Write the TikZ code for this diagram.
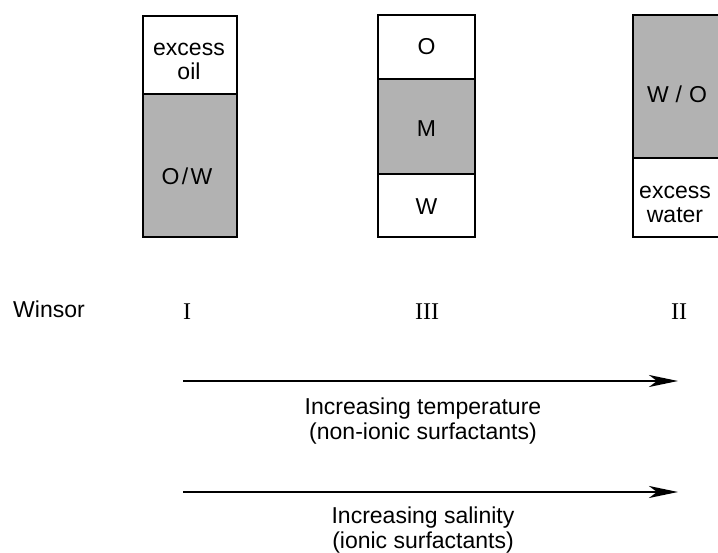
\documentclass[tikz,border=0pt]{standalone}
\usepackage{fontspec}
\setmainfont{Liberation Sans}
\newfontfamily\romanfont{Liberation Serif}
\usetikzlibrary{arrows.meta}
\definecolor{phase}{RGB}{178,178,178}
\begin{document}
\begin{tikzpicture}[x=1pt,y=-1pt,
  box/.style={draw=black,line width=2.3pt},
  lbl/.style={font=\fontsize{23}{24.5}\selectfont,anchor=base,align=center,inner sep=0pt},
  num/.style={font=\romanfont\fontsize{24}{25}\selectfont,anchor=base,inner sep=0pt},
  arr/.style={line width=2.5pt,-{Stealth[length=29pt,width=12pt,inset=8pt]}}]
\useasboundingbox (0,0) rectangle (718,553);
\clip (0,0) rectangle (718,553);
% tube I
\fill[phase] (143,94) rectangle (237,237);
\draw[box] (143,16) rectangle (237,237);
\draw[box] (143,94) -- (237,94);
\node[lbl] (t1a) at (189,80) {excess\\oil};
\node[lbl] (t1b) at (187,185) {O\hspace{0.1em}/\hspace{0.1em}W};
% tube III
\fill[phase] (378,79) rectangle (475,174);
\draw[box] (378,15) rectangle (475,237);
\draw[box] (378,79) -- (475,79);
\draw[box] (378,174) -- (475,174);
\node[lbl] (t2a) at (426.5,55) {O};
\node[lbl] (t2b) at (426.5,137) {M};
\node[lbl] (t2c) at (426.5,215) {W};
% tube II
\fill[phase] (633,15) rectangle (728,158);
\draw[box] (633,15) rectangle (728,237);
\draw[box] (633,158) -- (728,158);
\node[lbl] (t3a) at (677,103) {W\hspace{0.3em}/\hspace{0.3em}O};
\node[lbl] (t3b) at (675,223) {excess\\water};
% Winsor labels
\node[lbl,anchor=base west] (win) at (13,318) {Winsor};
\node[num] (w1) at (187,320) {I};
\node[num] (w3) at (427,320) {III};
\node[num] (w2) at (679,320) {II};
% arrows
\coordinate (a1s) at (183,381);
\coordinate (a1e) at (678,381);
\coordinate (a2s) at (183,492);
\coordinate (a2e) at (678,492);
\draw[arr] (a1s) -- (a1e);
\draw[arr] (a2s) -- (a2e);
\node[lbl] (temp) at (423,439) {Increasing temperature\\(non-ionic surfactants)};
\node[lbl] (sal) at (423,548) {Increasing salinity\\(ionic surfactants)};
\end{tikzpicture}
\end{document}
